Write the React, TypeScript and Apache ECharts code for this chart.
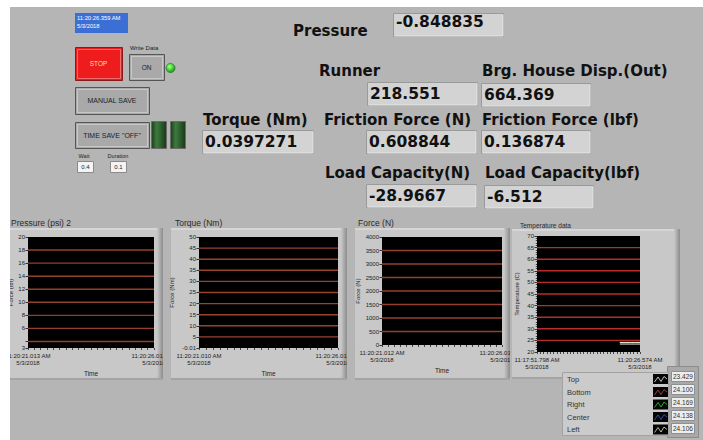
import React, { useEffect, useRef } from "react";
import * as echarts from "echarts";

const W = 703;
const H = 440;

// ---- front panel readouts ----
const timestampLines = ["11:20:26.359 AM", "5/3/2018"];
const pressureReading = "-0.848835";
const runnerReading = "218.551";
const brgHouseReading = "664.369";
const torqueReading = "0.0397271";
const frictionNReading = "0.608844";
const frictionLbfReading = "0.136874";
const loadNReading = "-28.9667";
const loadLbfReading = "-6.512";
const waitValue = "0.4";
const durationValue = "0.1";

// ---- waveform chart axes ----
const pressureTickValues = [3, 4, 6, 8, 10, 12, 14, 16, 18, 20];
const pressureLabelValues = [3, 6, 8, 10, 12, 14, 16, 18, 20];
const pressureGridLines = [4, 6, 8, 10, 12, 14, 16, 18];
const torqueTickValues = [-0.01, 5, 10, 15, 20, 25, 30, 35, 40, 45, 50];
const torqueGridLines = [5, 10, 15, 20, 25, 30, 35, 40, 45];
const forceGridLines = [500, 1000, 1500, 2000, 2500, 3000, 3500];
const tempGridLines = [25, 30, 35, 40, 45, 50, 55, 60, 65];

const pressureTimeLabels = ["11:20:21.013 AM\n5/3/2018", "11:20:26.013 AM\n5/3/2018"];
const torqueTimeLabels = ["11:20:21.010 AM\n5/3/2018", "11:20:26.010 AM\n5/3/2018"];
const forceTimeLabels = ["11:20:21.012 AM\n5/3/2018", "11:20:26.012 AM\n5/3/2018"];
const tempTimeLabels = ["11:17:51.798 AM\n5/3/2018", "11:20:26.574 AM\n5/3/2018"];

// seconds shown in each chart window
const shortWindowSeconds = 5;
const tempWindowSeconds = 154.776;

// ---- temperature history (seconds from window start, deg C) ----
const tempSeriesNames = ["Top", "Bottom", "Right", "Center", "Left"];
const tempTimes = [124.5, 132.3, 140.1, 147.6, 154.776];
const topTemps = [23.44, 23.43, 23.43, 23.43, 23.429];
const bottomTemps = [24.1, 24.1, 24.11, 24.1, 24.1];
const rightTemps = [24.17, 24.17, 24.16, 24.17, 24.169];
const centerTemps = [24.14, 24.13, 24.14, 24.14, 24.138];
const leftTemps = [24.11, 24.1, 24.11, 24.11, 24.106];
const tempColors = ["#ececec", "#c84a3c", "#3ccf3c", "#3c5fc8", "#e4e4c8"];

const BG = "#b5b5b5";
const PANEL = "#c8c8c8";
const BOX_FILL = "#d3d3d3";
const BOX_STROKE = "#9a9a9a";
const SMALL_FONT = "Liberation Sans";
const BOLD_FONT = "DejaVu Sans";

function rect(x: number, y: number, w: number, h: number, fill: any, z: number, stroke?: string, lineWidth = 1) {
  return {
    type: "rect",
    silent: true,
    z,
    shape: { x, y, width: w, height: h },
    style: { fill, stroke: stroke || null, lineWidth: stroke ? lineWidth : 0 },
  };
}

function label(
  x: number,
  y: number,
  str: string,
  size: number,
  opts: { bold?: boolean; color?: string; align?: string; family?: string; z?: number } = {}
) {
  const align = opts.align || "left";
  return {
    type: "text",
    silent: true,
    z: opts.z ?? 100,
    x,
    y,
    style: {
      text: str,
      fill: opts.color || "#111",
      fontSize: size,
      fontWeight: opts.bold ? "bold" : "normal",
      fontFamily: opts.family || (opts.bold ? BOLD_FONT : SMALL_FONT),
      align,
      verticalAlign: "middle",
      textAlign: align,
      textVerticalAlign: "middle",
    },
  };
}

function numericBox(x: number, y: number, w: number, h: number, value: string, textY: number) {
  return [
    rect(x + 0.5, y + 0.5, w, h, BOX_FILL, 90, BOX_STROKE),
    {
      type: "polyline",
      silent: true,
      z: 91,
      shape: { points: [[x + 1.5, y + h], [x + w, y + h], [x + w, y + 1.5]] },
      style: { stroke: "#e6e6e6", lineWidth: 1, fill: null },
    },
    label(x + 3, textY, value, 15.5, { bold: true, z: 92 }),
  ];
}

function button(x: number, y: number, w: number, h: number, fill: string, edge: string, text: string, textColor: string, size: number) {
  return [
    rect(x + 0.5, y + 0.5, w, h, fill, 90, edge),
    rect(x + 2.5, y + 2.5, w - 4, h - 4, "none", 91, "rgba(255,255,255,0.35)"),
    label(x + w / 2, y + h / 2, text, size, { color: textColor, align: "center", z: 92 }),
  ];
}

type PlotSpec = {
  title: string;
  titleX: number;
  titleY: number;
  titleSize: number;
  panel: [number, number, number, number];
  grid: { left: number; top: number; width: number; height: number };
  yMin: number;
  yMax: number;
  yInterval?: number;
  yTicks?: number[];
  yLabels?: number[];
  yMinor?: boolean;
  yName: string;
  yNameGap: number;
  gridLines: number[];
  gridColor: string;
  xMax: number;
  xTick: number;
  xLabels: string[];
  z: number;
};

const plots: PlotSpec[] = [
  {
    title: "Pressure (psi) 2",
    titleX: 11,
    titleY: 223,
    titleSize: 8.5,
    panel: [0, 228, 163, 152],
    grid: { left: 28, top: 237, width: 126, height: 111 },
    yMin: 3,
    yMax: 20,
    yTicks: pressureTickValues,
    yLabels: pressureLabelValues,
    yName: "Force (lbf)",
    yNameGap: 13,
    gridLines: pressureGridLines,
    gridColor: "#94402e",
    xMax: shortWindowSeconds,
    xTick: 0.25,
    xLabels: pressureTimeLabels,
    z: 10,
  },
  {
    title: "Torque (Nm)",
    titleX: 175,
    titleY: 223,
    titleSize: 8.5,
    panel: [171, 228, 176, 152],
    grid: { left: 199, top: 237, width: 139, height: 111 },
    yMin: -0.01,
    yMax: 50,
    yTicks: torqueTickValues,
    yLabels: torqueTickValues,
    yName: "Force (Nm)",
    yNameGap: 24,
    gridLines: torqueGridLines,
    gridColor: "#9a422c",
    xMax: shortWindowSeconds,
    xTick: 0.25,
    xLabels: torqueTimeLabels,
    z: 20,
  },
  {
    title: "Force (N)",
    titleX: 358,
    titleY: 223,
    titleSize: 8.5,
    panel: [355, 228, 155, 152],
    grid: { left: 382, top: 237, width: 120, height: 108 },
    yMin: 0,
    yMax: 4000,
    yInterval: 500,
    yName: "Force (N)",
    yNameGap: 21,
    gridLines: forceGridLines,
    gridColor: "#94402e",
    xMax: shortWindowSeconds,
    xTick: 0.25,
    xLabels: forceTimeLabels,
    z: 30,
  },
  {
    title: "Temperature data",
    titleX: 520,
    titleY: 225,
    titleSize: 6.5,
    panel: [512, 229, 168, 150],
    grid: { left: 537, top: 236, width: 103, height: 116 },
    yMin: 20,
    yMax: 70,
    yInterval: 5,
    yMinor: true,
    yName: "Temperature (C)",
    yNameGap: 17,
    gridLines: tempGridLines,
    gridColor: "#b82c2c",
    xMax: tempWindowSeconds,
    xTick: 5,
    xLabels: tempTimeLabels,
    z: 40,
  },
];

function panelGraphics(p: PlotSpec) {
  const [x, y, w, h] = p.panel;
  const z = p.z - 2;
  return [
    rect(x, y, w, h, PANEL, z),
    rect(x, y, w, 2, "#d6d6d6", z),
    rect(x + w - 6, y, 6, h, { type: "linear", x: 0, y: 0, x2: 1, y2: 0, colorStops: [{ offset: 0, color: PANEL }, { offset: 1, color: "#8c8c8c" }] }, z),
    rect(x, y + h - 2, w, 2, "#a4a4a4", z),
    label(p.titleX, p.titleY, p.title, p.titleSize, { color: "#2a2a2a", z: 100 }),
  ];
}

function buildOption() {
  const grids: any[] = [];
  const xAxes: any[] = [];
  const yAxes: any[] = [];
  const series: any[] = [];
  const graphics: any[] = [];

  graphics.push(rect(0, 0, W, H, BG, -20));

  plots.forEach((p, i) => {
    graphics.push(...panelGraphics(p));
    grids.push({ ...p.grid, show: true, backgroundColor: "#000", borderWidth: 0, z: p.z + 1 });

    const labels = p.xLabels;
    xAxes.push({
      gridIndex: i,
      type: "value",
      min: 0,
      max: p.xMax,
      interval: p.xTick,
      z: p.z + 2,
      axisLine: { show: false },
      axisTick: { show: true, length: 2, lineStyle: { color: "#444", width: 1 } },
      axisLabel: {
        customValues: [0, p.xMax],
        formatter: (v: number) => (v <= 0 ? labels[0] : labels[1]),
        fontSize: 6,
        lineHeight: 7,
        color: "#222",
        margin: 4,
        fontFamily: SMALL_FONT,
      },
      splitLine: { show: false },
      name: "Time",
      nameLocation: "middle",
      nameGap: 22,
      nameTextStyle: { fontSize: 6.5, color: "#222", fontFamily: SMALL_FONT },
    });

    const yAxis: any = {
      gridIndex: i,
      type: "value",
      min: p.yMin,
      max: p.yMax,
      z: p.z + 2,
      axisLine: { show: false },
      axisTick: { show: true, length: 2.5, lineStyle: { color: "#333", width: 1 } },
      axisLabel: {
        formatter: (v: number) => String(v),
        fontSize: 6,
        color: "#222",
        margin: 3,
        fontFamily: SMALL_FONT,
      },
      splitLine: { show: false },
      name: p.yName,
      nameLocation: "middle",
      nameRotate: 90,
      nameGap: p.yNameGap,
      nameTextStyle: { fontSize: 6, color: "#222", fontFamily: SMALL_FONT },
    };
    if (p.yTicks) {
      yAxis.axisTick.customValues = p.yTicks;
      yAxis.axisLabel.customValues = p.yLabels;
    } else {
      yAxis.interval = p.yInterval;
    }
    if (p.yMinor) {
      yAxis.minorTick = { show: true, splitNumber: 5, length: 1.2, lineStyle: { color: "#444" } };
    }
    yAxes.push(yAxis);

    // horizontal grid lines, placed through the chart's own y scale
    const xMax = p.xMax;
    const color = p.gridColor;
    series.push({
      type: "custom",
      xAxisIndex: i,
      yAxisIndex: i,
      z: p.z + 2,
      silent: true,
      clip: false,
      encode: { x: 0, y: 1 },
      data: p.gridLines.map((v) => [0, v]),
      renderItem: (_params: any, api: any) => {
        const level = api.value(1);
        const a = api.coord([0, level]);
        const b = api.coord([xMax, level]);
        return {
          type: "line",
          shape: { x1: a[0], y1: a[1], x2: b[0], y2: b[1] },
          style: { stroke: color, lineWidth: 1.4 },
        };
      },
    });
  });

  // temperature traces
  const tempValues = [topTemps, bottomTemps, rightTemps, centerTemps, leftTemps];
  tempValues.forEach((vals, k) => {
    series.push({
      type: "line",
      name: tempSeriesNames[k],
      xAxisIndex: 3,
      yAxisIndex: 3,
      z: 43,
      showSymbol: false,
      silent: true,
      lineStyle: { color: tempColors[k], width: 1 },
      itemStyle: { color: tempColors[k] },
      data: tempTimes.map((t, j) => [t, vals[j]]),
    });
  });

  // gaps between chart frames
  graphics.push(rect(163, 226, 8, 156, BG, 15));
  graphics.push(rect(347, 226, 8, 156, BG, 25));
  graphics.push(rect(510, 226, 2, 156, BG, 35));

  // plot legend with current readings
  const nameYs = [379, 392, 404.5, 417, 429.5];
  const valueYs = [376, 389, 402, 415, 428];
  graphics.push(rect(667.5, 366.5, 31, 71, "#a9a9a9", 50, "#8c8c8c"));
  graphics.push(rect(562.5, 372.5, 106, 63, "#cbcbcb", 51, "#a2a2a2"));
  tempSeriesNames.forEach((nm, k) => {
    const y = nameYs[k];
    graphics.push(label(567, y, nm, 7.5, { color: "#333", z: 52 }));
    graphics.push(rect(653, y - 5, 15, 10, "#050505", 52));
    graphics.push({
      type: "polyline",
      silent: true,
      z: 53,
      shape: { points: [[654.5, y + 3], [658, y - 2], [661, y + 2.5], [664, y - 2.5], [667, y]] },
      style: { stroke: tempColors[k], lineWidth: 0.8, fill: null },
    });
    const vals = tempValues[k];
    const vy = valueYs[k];
    graphics.push(rect(671.5, vy - 4.5, 23, 10, "#ededed", 52, "#8f8f8f"));
    graphics.push(label(673, vy + 0.5, vals[vals.length - 1].toFixed(3), 6.5, { color: "#333", z: 53 }));
  });

  // ---- controls on the left ----
  graphics.push(rect(75, 13, 53, 20, "#3c6fd6", 90));
  graphics.push(label(77, 18, timestampLines[0], 5.8, { color: "#fff", z: 91 }));
  graphics.push(label(77, 26, timestampLines[1], 5.8, { color: "#fff", z: 91 }));

  graphics.push(...button(75, 47, 47, 33, "#ee1c1c", "#8a1a1a", "STOP", "#ffd8d8", 6.5));
  graphics.push(label(130, 48, "Write Data", 6, { color: "#222" }));
  graphics.push(...button(129, 54, 35, 26, "#a9a9a9", "#555", "ON", "#222", 6.5));
  graphics.push({
    type: "circle",
    silent: true,
    z: 92,
    shape: { cx: 170.5, cy: 68, r: 4.5 },
    style: {
      fill: { type: "radial", x: 0.4, y: 0.35, r: 0.7, colorStops: [{ offset: 0, color: "#b6ff9a" }, { offset: 0.5, color: "#3fdc2f" }, { offset: 1, color: "#1f8a1f" }] },
      stroke: "#3f6f3f",
      lineWidth: 0.8,
    },
  });
  graphics.push(...button(75, 87, 74, 27, "#a9a9a9", "#555", "MANUAL SAVE", "#222", 7));
  graphics.push(...button(75, 122, 74, 26, "#a9a9a9", "#555", 'TIME SAVE "OFF"', "#222", 7));
  [151, 170].forEach((gx) => {
    graphics.push(rect(gx + 0.5, 121.5, 15, 27, {
      type: "linear", x: 0, y: 0, x2: 1, y2: 0,
      colorStops: [{ offset: 0, color: "#1c3f1c" }, { offset: 0.35, color: "#3e7a3e" }, { offset: 1, color: "#183818" }],
    }, 90, "#6a6a6a"));
  });
  graphics.push(label(84, 156, "Wait", 5.5, { color: "#222", align: "center" }));
  graphics.push(label(118, 156, "Duration", 5.5, { color: "#222", align: "center" }));
  graphics.push(rect(77.5, 161.5, 16, 11, "#f4f4f4", 90, "#8a8a8a"));
  graphics.push(label(85.5, 167, waitValue, 6, { color: "#222", align: "center" }));
  graphics.push(rect(110.5, 161.5, 16, 11, "#f4f4f4", 90, "#8a8a8a"));
  graphics.push(label(118.5, 167, durationValue, 6, { color: "#222", align: "center" }));

  // ---- numeric indicators ----
  graphics.push(label(293, 31, "Pressure", 15, { bold: true }));
  graphics.push(...numericBox(393, 13, 110, 23, pressureReading, 22));
  graphics.push(label(319, 71, "Runner", 15, { bold: true }));
  graphics.push(label(482, 71, "Brg. House Disp.(Out)", 15, { bold: true }));
  graphics.push(...numericBox(367, 82, 110, 23, runnerReading, 93.5));
  graphics.push(...numericBox(481, 83, 109, 23, brgHouseReading, 94.5));
  graphics.push(label(203, 119.5, "Torque (Nm)", 15, { bold: true }));
  graphics.push(label(324, 119.5, "Friction Force (N)", 15, { bold: true }));
  graphics.push(label(482, 119.5, "Friction Force (lbf)", 15, { bold: true }));
  graphics.push(...numericBox(202, 130, 111, 23, torqueReading, 142));
  graphics.push(...numericBox(366, 130, 110, 23, frictionNReading, 142));
  graphics.push(...numericBox(481, 130, 109, 23, frictionLbfReading, 142));
  graphics.push(label(325, 173, "Load Capacity(N)", 15, { bold: true }));
  graphics.push(label(485, 173, "Load Capacity(lbf)", 15, { bold: true }));
  graphics.push(...numericBox(366, 184, 110, 23, loadNReading, 195.5));
  graphics.push(...numericBox(484, 185, 109, 23, loadLbfReading, 196.5));

  // window border
  graphics.push(rect(0, 0, W, 7, "#ffffff", 200));
  graphics.push(rect(0, 0, 10, H, "#ffffff", 200));

  return {
    animation: false,
    backgroundColor: BG,
    tooltip: { show: false },
    grid: grids,
    xAxis: xAxes,
    yAxis: yAxes,
    series,
    graphic: { elements: graphics },
  };
}

export default function App() {
  const ref = useRef<HTMLDivElement>(null);
  useEffect(() => {
    if (!ref.current) return;
    const chart = echarts.init(ref.current, undefined, { renderer: "svg", width: W, height: H });
    chart.setOption(buildOption() as any);
    return () => chart.dispose();
  }, []);
  return <div ref={ref} style={{ position: "absolute", left: 0, top: 0, width: W, height: H }} />;
}
